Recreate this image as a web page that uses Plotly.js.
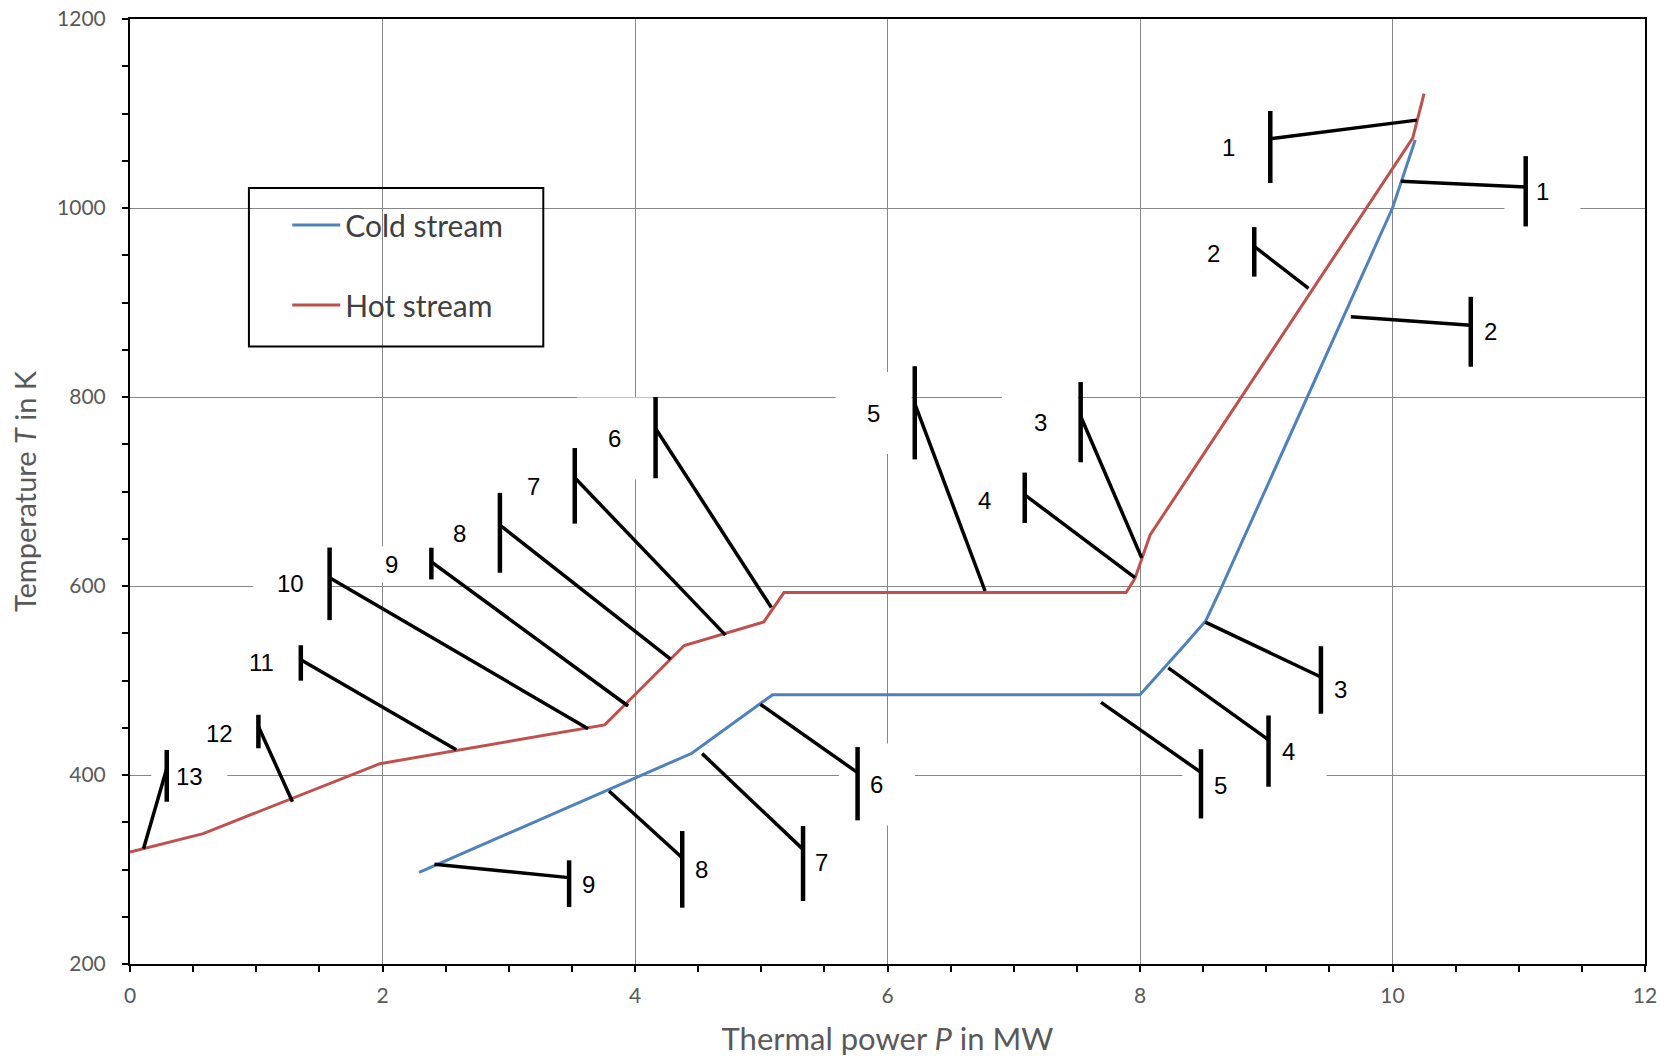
<!DOCTYPE html>
<html>
<head>
<meta charset="utf-8">
<script src="https://cdn.plot.ly/plotly-3.0.1.min.js"></script>
<style>
html,body{margin:0;padding:0;background:#ffffff;}
#chart{width:1666px;height:1060px;}
</style>
</head>
<body>
<div id="chart"></div>
<script>
// ---------- composite curves ----------
const hotP  = [0, 0.58, 1.98, 3.76, 4.39, 5.02, 5.18, 7.89, 7.96, 8.08, 10.16, 10.25];
const hotT  = [318.5, 338, 412, 453, 537, 562, 593, 593, 608, 654, 1074, 1121];
const coldP = [2.29, 4.45, 5.09, 8.0, 8.35, 8.52, 8.63, 10.0, 10.18];
const coldT = [297, 423, 485, 485, 537, 563, 594, 1000, 1072];

// ---------- hot stream numbered markers ----------
const hotLabels   = ['1','2','3','4','5','6','7','8','9','10','11','12','13'];
const hotBarP     = [9.032, 8.905, 7.53, 7.087, 6.216, 4.163, 3.523, 2.93, 2.387, 1.581, 1.353, 1.017, 0.291];
const hotBarLow   = [1026.5, 927.4, 730.9, 666.7, 734, 714, 666, 614, 607, 563.9, 499.8, 428.3, 371.7];
const hotBarHigh  = [1102.7, 979.8, 815.8, 720, 832.6, 800, 746, 698.5, 640.5, 640.7, 537.3, 463.7, 426.5];
const hotJoinT    = [1073.3, 959.3, 779.6, 696.5, 793, 766.7, 714.5, 664.5, 625.5, 608.8, 522, 451.3, 407];
const hotEndP     = [10.193, 9.335, 8.013, 7.96, 6.773, 5.08, 4.717, 4.282, 3.945, 3.628, 2.584, 1.287, 0.107];
const hotEndT     = [1093, 915, 629.8, 608.8, 594.7, 577.2, 548, 522.5, 473, 449, 426.8, 371.7, 322];
const hotLabelP   = [8.70, 8.583, 7.208, 6.77, 5.89, 3.84, 3.197, 2.61, 2.073, 1.274, 1.038, 0.71, 0.47];
const hotLabelT   = [1063.7, 952, 772.6, 690, 783, 756, 705, 656, 623, 602.8, 518.6, 444, 398];

// ---------- cold stream numbered markers ----------
const coldLabels   = ['1','2','3','4','5','6','7','8','9'];
const coldBarP     = [11.055, 10.62, 9.433, 9.018, 8.483, 5.763, 5.331, 4.374, 3.478];
const coldBarLow   = [980.5, 832, 464.8, 387.6, 354, 352, 266.7, 259.6, 260.3];
const coldBarHigh  = [1054.9, 906, 536.3, 463, 427.3, 429.6, 346, 340.7, 309.7];
const coldJoinT    = [1022.3, 876, 503.7, 437.2, 402.8, 402.5, 321.3, 312.5, 291.4];
const coldStartP   = [10.066, 9.67, 8.517, 8.224, 7.691, 4.993, 4.532, 3.794, 2.411];
const coldStartT   = [1028.3, 885, 561.8, 513.3, 476.8, 474.8, 422.6, 383.1, 305.5];
const coldLabelP   = [11.187, 10.778, 9.586, 9.177, 8.636, 5.916, 5.481, 4.527, 3.631];
const coldLabelT   = [1017.7, 869, 490.3, 424.8, 389.4, 390, 307, 300.2, 284.3];

// ---------- axis ticks ----------
const xTicks = [0, 2, 4, 6, 8, 10, 12];
const yTicks = [200, 400, 600, 800, 1000, 1200];

// build segment arrays
const barX = [], barY = [], legX = [], legY = [];
hotLabels.forEach((_, i) => {
  barX.push(hotBarP[i], hotBarP[i], null);
  barY.push(hotBarLow[i], hotBarHigh[i], null);
  legX.push(hotBarP[i], hotEndP[i], null);
  legY.push(hotJoinT[i], hotEndT[i], null);
});
coldLabels.forEach((_, i) => {
  barX.push(coldBarP[i], coldBarP[i], null);
  barY.push(coldBarLow[i], coldBarHigh[i], null);
  legX.push(coldStartP[i], coldBarP[i], null);
  legY.push(coldStartT[i], coldJoinT[i], null);
});

const labelP = hotLabelP.concat(coldLabelP);
const labelT = hotLabelT.concat(coldLabelT);
const labelText = hotLabels.concat(coldLabels);
const labelKey = hotLabels.map(t => 'h' + t).concat(coldLabels.map(t => 'c' + t));

const traces = [
  {x: coldP, y: coldT, type: 'scatter', mode: 'lines', name: 'Cold stream',
   legendgroup: 'c', line: {color: '#4F81BD', width: 3}},
  {x: hotP, y: hotT, type: 'scatter', mode: 'lines', name: 'Hot stream',
   legendgroup: 'h', line: {color: '#C0504D', width: 3}},
  {x: legX, y: legY, type: 'scatter', mode: 'lines', showlegend: false, hoverinfo: 'skip',
   line: {color: '#000000', width: 3.5}},
  {x: barX, y: barY, type: 'scatter', mode: 'lines', showlegend: false, hoverinfo: 'skip',
   line: {color: '#000000', width: 4.5}}
];

// white text-box backgrounds that interrupt the gridlines (style only)
const boxHalfHeight = {h9: 18};
const shapes = labelText.map((t, i) => {
  const hh = boxHalfHeight[labelKey[i]] || 41;
  return {
    type: 'rect', xref: 'x', yref: 'y', layer: 'between',
    xsizemode: 'pixel', xanchor: labelP[i], x0: -38, x1: 38,
    ysizemode: 'pixel', yanchor: labelT[i], y0: -hh, y1: hh,
    fillcolor: '#ffffff', line: {width: 0}
  };
});
// legend frame
shapes.push({type: 'rect', xref: 'paper', yref: 'paper',
  x0: 0.0785, x1: 0.2728, y0: 0.6535, y1: 0.8212,
  fillcolor: 'rgba(0,0,0,0)', line: {color: '#000000', width: 2}, layer: 'above'});

const annotations = labelText.map((t, i) => ({
  x: labelP[i], y: labelT[i], xref: 'x', yref: 'y', text: t, showarrow: false,
  font: {family: 'Liberation Sans, Arial, sans-serif', size: 24, color: '#000000'}
}));

const axisFont = {family: 'Lato, Carlito, Calibri, sans-serif', size: 21, color: '#595959'};
const yTitleFont = {family: 'Lato, Carlito, Calibri, sans-serif', size: 29, color: '#595959'};
const xTitleFont = {family: 'Lato, Carlito, Calibri, sans-serif', size: 31, color: '#595959'};

const layout = {
  width: 1666, height: 1060,
  margin: {l: 130, r: 21, t: 19, b: 96},
  paper_bgcolor: '#ffffff', plot_bgcolor: '#ffffff',
  showlegend: true,
  legend: {x: 0.1038, y: 0.8094, xanchor: 'left', yanchor: 'top',
    bgcolor: 'rgba(0,0,0,0)', borderwidth: 0, traceorder: 'grouped', tracegroupgap: 38,
    itemwidth: 48,
    font: {family: 'Lato, Carlito, Calibri, sans-serif', size: 30, color: '#404040'}},
  xaxis: {
    range: [0, 12], tickvals: xTicks, ticktext: xTicks.map(String),
    showgrid: true, gridcolor: '#868686', gridwidth: 1,
    zeroline: false, showline: true, linecolor: '#000000', linewidth: 2, mirror: true,
    ticks: 'outside', ticklen: 6, tickwidth: 2, tickcolor: '#000000',
    minor: {dtick: 0.5, ticks: 'outside', ticklen: 6, tickwidth: 2, tickcolor: '#000000', showgrid: false},
    tickfont: axisFont, ticklabelstandoff: 6,
    title: {text: 'Thermal power <i>P</i> in MW', font: xTitleFont, standoff: 22},
    automargin: false, fixedrange: true
  },
  yaxis: {
    range: [200, 1200], tickvals: yTicks, ticktext: yTicks.map(String),
    showgrid: true, gridcolor: '#868686', gridwidth: 1,
    zeroline: false, showline: true, linecolor: '#000000', linewidth: 2, mirror: true,
    ticks: 'outside', ticklen: 6, tickwidth: 2, tickcolor: '#000000',
    minor: {dtick: 50, ticks: 'outside', ticklen: 6, tickwidth: 2, tickcolor: '#000000', showgrid: false},
    tickfont: axisFont, ticklabelstandoff: 12,
    title: {text: 'Temperature <i>T</i> in K', font: yTitleFont, standoff: 12},
    automargin: false, fixedrange: true
  },
  shapes: shapes,
  annotations: annotations
};

Plotly.newPlot('chart', traces, layout, {displayModeBar: false, staticPlot: true});
</script>
</body>
</html>
